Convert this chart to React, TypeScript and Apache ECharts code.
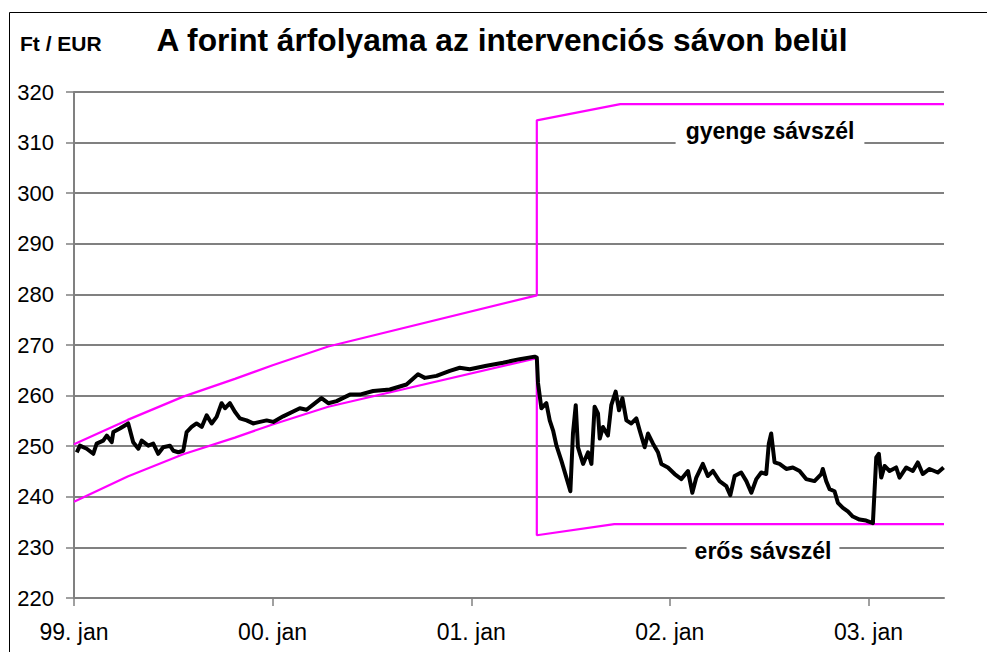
import React, { useEffect, useRef } from "react";
import * as echarts from "echarts";

// X values are decimal years
const yearTicks = [1999, 2000, 2001, 2002, 2003];

const rateDates = [
  1999.014, 1999.03, 1999.064, 1999.097, 1999.114, 1999.147, 1999.165, 1999.19, 1999.198, 1999.231,
  1999.273, 1999.298, 1999.324, 1999.341, 1999.374, 1999.399, 1999.424, 1999.449, 1999.483, 1999.5,
  1999.525, 1999.55, 1999.567, 1999.592, 1999.617, 1999.643, 1999.668, 1999.693, 1999.718, 1999.743,
  1999.76, 1999.785, 1999.81, 1999.835, 1999.869, 1999.902, 1999.936, 1999.97, 2000.003,
  2000.053, 2000.137, 2000.171, 2000.204, 2000.246, 2000.28, 2000.322, 2000.389, 2000.439, 2000.506,
  2000.59, 2000.674, 2000.732, 2000.766, 2000.825, 2000.892, 2000.942, 2000.992, 2001.077, 2001.16,
  2001.244, 2001.319, 2001.33, 2001.336,
  2001.353, 2001.378, 2001.395, 2001.412, 2001.429, 2001.454, 2001.479, 2001.499, 2001.512, 2001.526,
  2001.537, 2001.563, 2001.588, 2001.605, 2001.621, 2001.638, 2001.647, 2001.663, 2001.688, 2001.705,
  2001.727, 2001.744, 2001.761, 2001.781, 2001.806, 2001.831, 2001.848, 2001.873, 2001.89, 2001.915,
  2001.94, 2001.957, 2001.99, 2002.024, 2002.058, 2002.091, 2002.113, 2002.133,
  2002.166, 2002.191, 2002.217, 2002.25, 2002.284, 2002.304, 2002.326, 2002.359, 2002.385, 2002.41,
  2002.435, 2002.46, 2002.485, 2002.498, 2002.51, 2002.527, 2002.552, 2002.586, 2002.619, 2002.653,
  2002.686, 2002.728, 2002.762, 2002.77, 2002.787, 2002.804, 2002.829, 2002.846, 2002.871, 2002.896,
  2002.921, 2002.955, 2002.988, 2003.022, 2003.039, 2003.052, 2003.064, 2003.081, 2003.106, 2003.139,
  2003.156, 2003.19, 2003.223, 2003.248, 2003.273, 2003.307, 2003.349, 2003.378,
];
const rateValues = [
  248.8, 250.1, 249.5, 248.5, 250.5, 251.1, 252.1, 250.8, 252.8, 253.5,
  254.5, 250.8, 249.5, 251.1, 250.1, 250.5, 248.5, 249.8, 250.1, 249.1,
  248.8, 249.1, 252.8, 253.8, 254.5, 253.8, 256.1, 254.5, 255.8, 258.5,
  257.5, 258.5, 256.8, 255.5, 255.1, 254.5, 254.8, 255.1, 254.8,
  255.9, 257.5, 257.2, 258.2, 259.5, 258.5, 258.9, 260.2, 260.2, 260.9,
  261.2, 262.2, 264.2, 263.5, 263.9, 264.9, 265.5, 265.2, 265.9, 266.5,
  267.2, 267.7, 267.5, 262.5,
  257.5, 258.5, 255.1, 253.1, 250.1, 247.1, 243.8, 241.1, 252.5, 258.1,
  249.8, 246.5, 248.8, 246.5, 257.8, 256.5, 251.5, 253.8, 252.1, 258.1,
  260.8, 257.1, 259.5, 255.1, 254.5, 255.5, 253.1, 249.8, 252.5, 250.5,
  248.8, 246.5, 245.8, 244.5, 243.5, 245.1, 240.8, 243.8,
  246.5, 244.1, 245.1, 243.1, 242.1, 240.3, 244.1, 244.8, 243.1, 240.8,
  243.5, 244.8, 244.5, 250.5, 252.5, 246.8, 246.5, 245.5, 245.8, 245.1,
  243.5, 243.1, 244.5, 245.5, 243.1, 241.5, 241.1, 238.8, 237.8, 237.1,
  236.1, 235.5, 235.3, 234.8, 247.8, 248.5, 243.8, 246.1, 245.1, 245.8,
  243.8, 245.8, 245.1, 246.8, 244.5, 245.5, 244.8, 245.8,
];

const weakEdgeDates = [1999.0, 1999.27, 1999.55, 1999.81, 2000.0, 2000.28, 2001.33, 2001.33, 2001.75, 2003.38];
const weakEdgeValues = [250.4, 255.2, 259.8, 263.3, 266.0, 269.7, 279.8, 314.4, 317.6, 317.6];

const strongEdgeDates = [1999.0, 1999.27, 1999.55, 1999.81, 2000.0, 2000.28, 2001.33, 2001.33, 2001.72, 2003.38];
const strongEdgeValues = [239.0, 244.0, 248.4, 251.7, 254.3, 257.8, 267.4, 232.4, 234.6, 234.6];

const titleText = "A forint árfolyama az intervenciós sávon belül";
const unitText = "Ft / EUR";
const weakLabel = "gyenge sávszél";
const strongLabel = "erős sávszél";

const FONT = "'Liberation Sans', Arial, sans-serif";

const zip = (xs: number[], ys: number[]) => xs.map((x, i) => [x, ys[i]]);

export default function App() {
  const ref = useRef<HTMLDivElement>(null);
  useEffect(() => {
    if (!ref.current) return;
    const chart = echarts.init(ref.current, undefined, { renderer: "svg" });
    const grey = "#808080";
    chart.setOption({
      animation: false,
      backgroundColor: "#ffffff",
      textStyle: { fontFamily: FONT },
      grid: { left: 74, right: 43, top: 92, bottom: 54 },
      xAxis: {
        type: "value",
        min: 1999,
        max: 2003.38,
        interval: 1,
        axisLine: { show: true, onZero: false, lineStyle: { color: grey, width: 2 } },
        axisTick: { show: true, length: 8, lineStyle: { color: grey, width: 1.5 }, customValues: yearTicks },
        axisLabel: {
          customValues: yearTicks,
          color: "#000",
          fontSize: 23,
          fontFamily: FONT,
          margin: 22,
          formatter: (v: number) => `${String(Math.round(v)).slice(2)}. jan`,
        },
        splitLine: { show: false },
      },
      yAxis: {
        type: "value",
        min: 220,
        max: 320,
        interval: 10,
        axisLine: { show: true, lineStyle: { color: grey, width: 2 } },
        axisTick: { show: true, length: 8, lineStyle: { color: grey, width: 1.5 } },
        axisLabel: { color: "#000", fontSize: 22, fontFamily: FONT, margin: 20 },
        splitLine: { show: true, lineStyle: { color: grey, width: 2 } },
      },
      series: [
        {
          type: "line",
          name: "weak",
          data: zip(weakEdgeDates, weakEdgeValues),
          showSymbol: false,
          lineStyle: { color: "#ff00ff", width: 2.2 },
          z: 2,
        },
        {
          type: "line",
          name: "strong",
          data: zip(strongEdgeDates, strongEdgeValues),
          showSymbol: false,
          lineStyle: { color: "#ff00ff", width: 2.2 },
          z: 2,
        },
        {
          type: "line",
          name: "rate",
          data: zip(rateDates, rateValues),
          showSymbol: false,
          lineStyle: { color: "#000000", width: 4, join: "round" },
          z: 3,
        },
      ],
      graphic: [
        {
          type: "rect",
          silent: true,
          z: -1,
          shape: { x: 9.5, y: 12.5, width: 1200, height: 900 },
          style: { fill: "none", stroke: "#000", lineWidth: 1 },
        },
        {
          type: "text",
          x: 502,
          y: 40,
          style: {
            text: titleText,
            font: `bold 31.7px ${FONT}`,
            fill: "#000",
            align: "center",
            verticalAlign: "middle",
          },
        },
        {
          type: "text",
          x: 20,
          y: 43,
          style: {
            text: unitText,
            font: `bold 21px ${FONT}`,
            fill: "#000",
            align: "left",
            verticalAlign: "middle",
          },
        },
        {
          type: "text",
          x: 770,
          y: 131,
          z: 10,
          style: {
            text: weakLabel,
            font: `bold 23px ${FONT}`,
            fill: "#000",
            align: "center",
            verticalAlign: "middle",
            backgroundColor: "#fff",
            padding: [2, 10, 2, 10],
          },
        },
        {
          type: "text",
          x: 763,
          y: 551,
          z: 10,
          style: {
            text: strongLabel,
            font: `bold 23px ${FONT}`,
            fill: "#000",
            align: "center",
            verticalAlign: "middle",
            backgroundColor: "#fff",
            padding: [2, 8, 2, 8],
          },
        },
      ],
    });
    return () => chart.dispose();
  }, []);
  return (
    <div
      ref={ref}
      style={{ position: "fixed", left: 0, top: 0, width: 987, height: 652, background: "#fff" }}
    />
  );
}
